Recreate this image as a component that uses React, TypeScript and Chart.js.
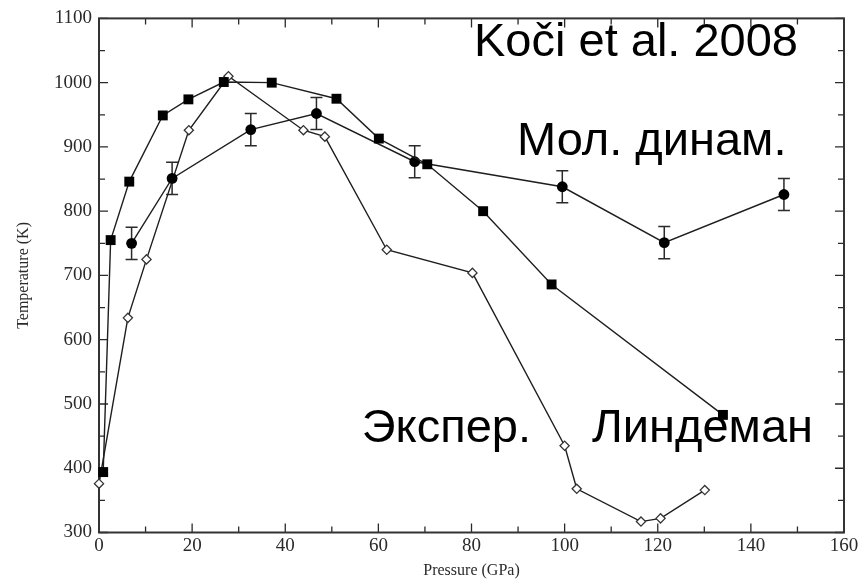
import React, { useEffect, useRef } from "react";
import { Chart, registerables } from "chart.js";

Chart.register(...registerables);

// Lindemann-criterion melting curve (filled squares)
const lindemannP = [0.9, 2.5, 6.5, 13.7, 19.2, 26.8, 37.1, 51.0, 60.1, 70.5, 82.5, 97.2, 134.0];
const lindemannT = [394, 755, 846, 949, 974, 1001, 1000, 975, 913, 873, 800, 686, 483];

// Molecular-dynamics melting points with error bars (filled circles)
const mdP = [7.0, 15.7, 32.6, 46.7, 67.8, 99.5, 121.4, 147.1];
const mdT = [750, 851, 927, 952, 877, 838, 751, 826];
const mdErr = [25, 25, 25, 25, 25, 25, 25, 25];

// Experimental melting curve (open diamonds)
const exptP = [0, 6.2, 10.2, 19.3, 27.8, 43.9, 48.5, 61.8, 80.2, 100.0, 102.6, 116.4, 120.6, 130.1];
const exptT = [376, 634, 725, 926, 1010, 926, 916, 740, 704, 435, 368, 317, 322, 366];

const xTitle = "Pressure (GPa)";
const yTitle = "Temperature (K)";
const sourceLabel = "Koči et al. 2008";
const mdLabel = "Мол. динам.";
const exptLabel = "Экспер.";
const lindemannLabel = "Линдеман";

const toPoints = (xs: number[], ys: number[]) => xs.map((x, i) => ({ x, y: ys[i] }));

const INK = "#1e1e1e";

// Box frame with inward major/minor ticks on all four sides
const framePlugin = {
  id: "frameTicks",
  beforeDatasetsDraw(chart: any) {
    const { ctx, chartArea: a, scales } = chart;
    const xs = scales.x;
    const ys = scales.y;
    ctx.save();
    ctx.strokeStyle = "#2a2a2a";
    ctx.lineWidth = 1.3;
    ctx.beginPath();
    for (let v = 0; v <= 160; v += 10) {
      const px = xs.getPixelForValue(v);
      const len = v % 20 === 0 ? 9 : 6;
      ctx.moveTo(px, a.bottom);
      ctx.lineTo(px, a.bottom - len);
      ctx.moveTo(px, a.top);
      ctx.lineTo(px, a.top + len);
    }
    for (let v = 300; v <= 1100; v += 50) {
      const py = ys.getPixelForValue(v);
      const len = v % 100 === 0 ? 9 : 6;
      ctx.moveTo(a.left, py);
      ctx.lineTo(a.left + len, py);
      ctx.moveTo(a.right, py);
      ctx.lineTo(a.right - len, py);
    }
    ctx.stroke();
    ctx.lineWidth = 2;
    ctx.strokeStyle = "#333";
    ctx.strokeRect(a.left, a.top, a.right - a.left, a.bottom - a.top);
    ctx.restore();
  },
};

// Vertical error bars with caps for the molecular-dynamics points
const errorBarPlugin = {
  id: "mdErrorBars",
  beforeDatasetsDraw(chart: any) {
    const { ctx, scales } = chart;
    const xs = scales.x;
    const ys = scales.y;
    ctx.save();
    ctx.strokeStyle = "#2a2a2a";
    ctx.lineWidth = 1.5;
    ctx.beginPath();
    mdP.forEach((p, i) => {
      const px = xs.getPixelForValue(p);
      const top = ys.getPixelForValue(mdT[i] + mdErr[i]);
      const bot = ys.getPixelForValue(mdT[i] - mdErr[i]);
      ctx.moveTo(px, top);
      ctx.lineTo(px, bot);
      ctx.moveTo(px - 6, top);
      ctx.lineTo(px + 6, top);
      ctx.moveTo(px - 6, bot);
      ctx.lineTo(px + 6, bot);
    });
    ctx.stroke();
    ctx.restore();
  },
};

// Large captions naming the source and each curve
const captionPlugin = {
  id: "captions",
  afterDraw(chart: any) {
    const { ctx } = chart;
    ctx.save();
    ctx.fillStyle = "#000";
    ctx.font = '47px "Liberation Sans", Arial, sans-serif';
    ctx.textBaseline = "alphabetic";
    ctx.textAlign = "left";
    ctx.fillText(sourceLabel, 474, 56);
    ctx.fillText(mdLabel, 517, 155);
    ctx.fillText(lindemannLabel, 592, 442);
    ctx.textAlign = "right";
    ctx.fillText(exptLabel, 531, 442);
    ctx.restore();
  },
};

export default function App() {
  const ref = useRef<HTMLCanvasElement>(null);

  useEffect(() => {
    const canvas = ref.current;
    if (!canvas) return;
    const serif = '"Liberation Serif", "Times New Roman", serif';
    const chart = new Chart(canvas, {
      type: "scatter",
      data: {
        datasets: [
          {
            label: "Lindemann",
            data: toPoints(lindemannP, lindemannT),
            showLine: true,
            borderColor: INK,
            borderWidth: 1.4,
            pointStyle: "rect",
            pointRadius: 7,
            pointBackgroundColor: "#000",
            pointBorderColor: "#000",
            pointBorderWidth: 0,
            clip: false,
          },
          {
            label: "MD",
            data: toPoints(mdP, mdT),
            showLine: true,
            borderColor: INK,
            borderWidth: 1.4,
            pointStyle: "circle",
            pointRadius: 5.4,
            pointBackgroundColor: "#000",
            pointBorderColor: "#000",
            pointBorderWidth: 0,
            clip: false,
          },
          {
            label: "Experiment",
            data: toPoints(exptP, exptT),
            showLine: true,
            borderColor: INK,
            borderWidth: 1.4,
            pointStyle: "rectRot",
            pointRadius: 4.6,
            pointBackgroundColor: "#fff",
            pointBorderColor: "#333",
            pointBorderWidth: 1.3,
            clip: false,
          },
        ],
      },
      options: {
        responsive: false,
        maintainAspectRatio: false,
        animation: false,
        layout: { padding: { top: 16, right: 18, left: 0, bottom: 0 } },
        plugins: {
          legend: { display: false },
          tooltip: { enabled: false },
        },
        scales: {
          x: {
            type: "linear",
            min: 0,
            max: 160,
            grid: { display: false, drawTicks: false },
            border: { display: false },
            ticks: {
              stepSize: 20,
              padding: 2,
              color: "#2a2a2a",
              font: { family: serif, size: 19 },
              maxRotation: 0,
              callback: (v: any) => String(v),
            },
            title: {
              display: true,
              text: xTitle,
              color: "#2a2a2a",
              font: { family: serif, size: 16 },
              padding: { top: 0, bottom: 1.5 },
            },
            afterFit(scale: any) {
              scale.height = 49.5;
            },
          },
          y: {
            type: "linear",
            min: 300,
            max: 1100,
            grid: { display: false, drawTicks: false },
            border: { display: false },
            ticks: {
              stepSize: 100,
              padding: 7,
              color: "#2a2a2a",
              font: { family: serif, size: 19 },
              callback: (v: any) => String(v),
            },
            title: {
              display: true,
              text: yTitle,
              color: "#2a2a2a",
              font: { family: serif, size: 16 },
              padding: { top: 14, bottom: 0 },
            },
            afterFit(scale: any) {
              scale.width = 99;
            },
          },
        },
      },
      plugins: [framePlugin, errorBarPlugin, captionPlugin],
    });
    return () => chart.destroy();
  }, []);

  return (
    <div style={{ position: "absolute", left: 0, top: 0, width: 862, height: 582, background: "#fff" }}>
      <canvas ref={ref} width={862} height={582} style={{ display: "block" }} />
    </div>
  );
}
